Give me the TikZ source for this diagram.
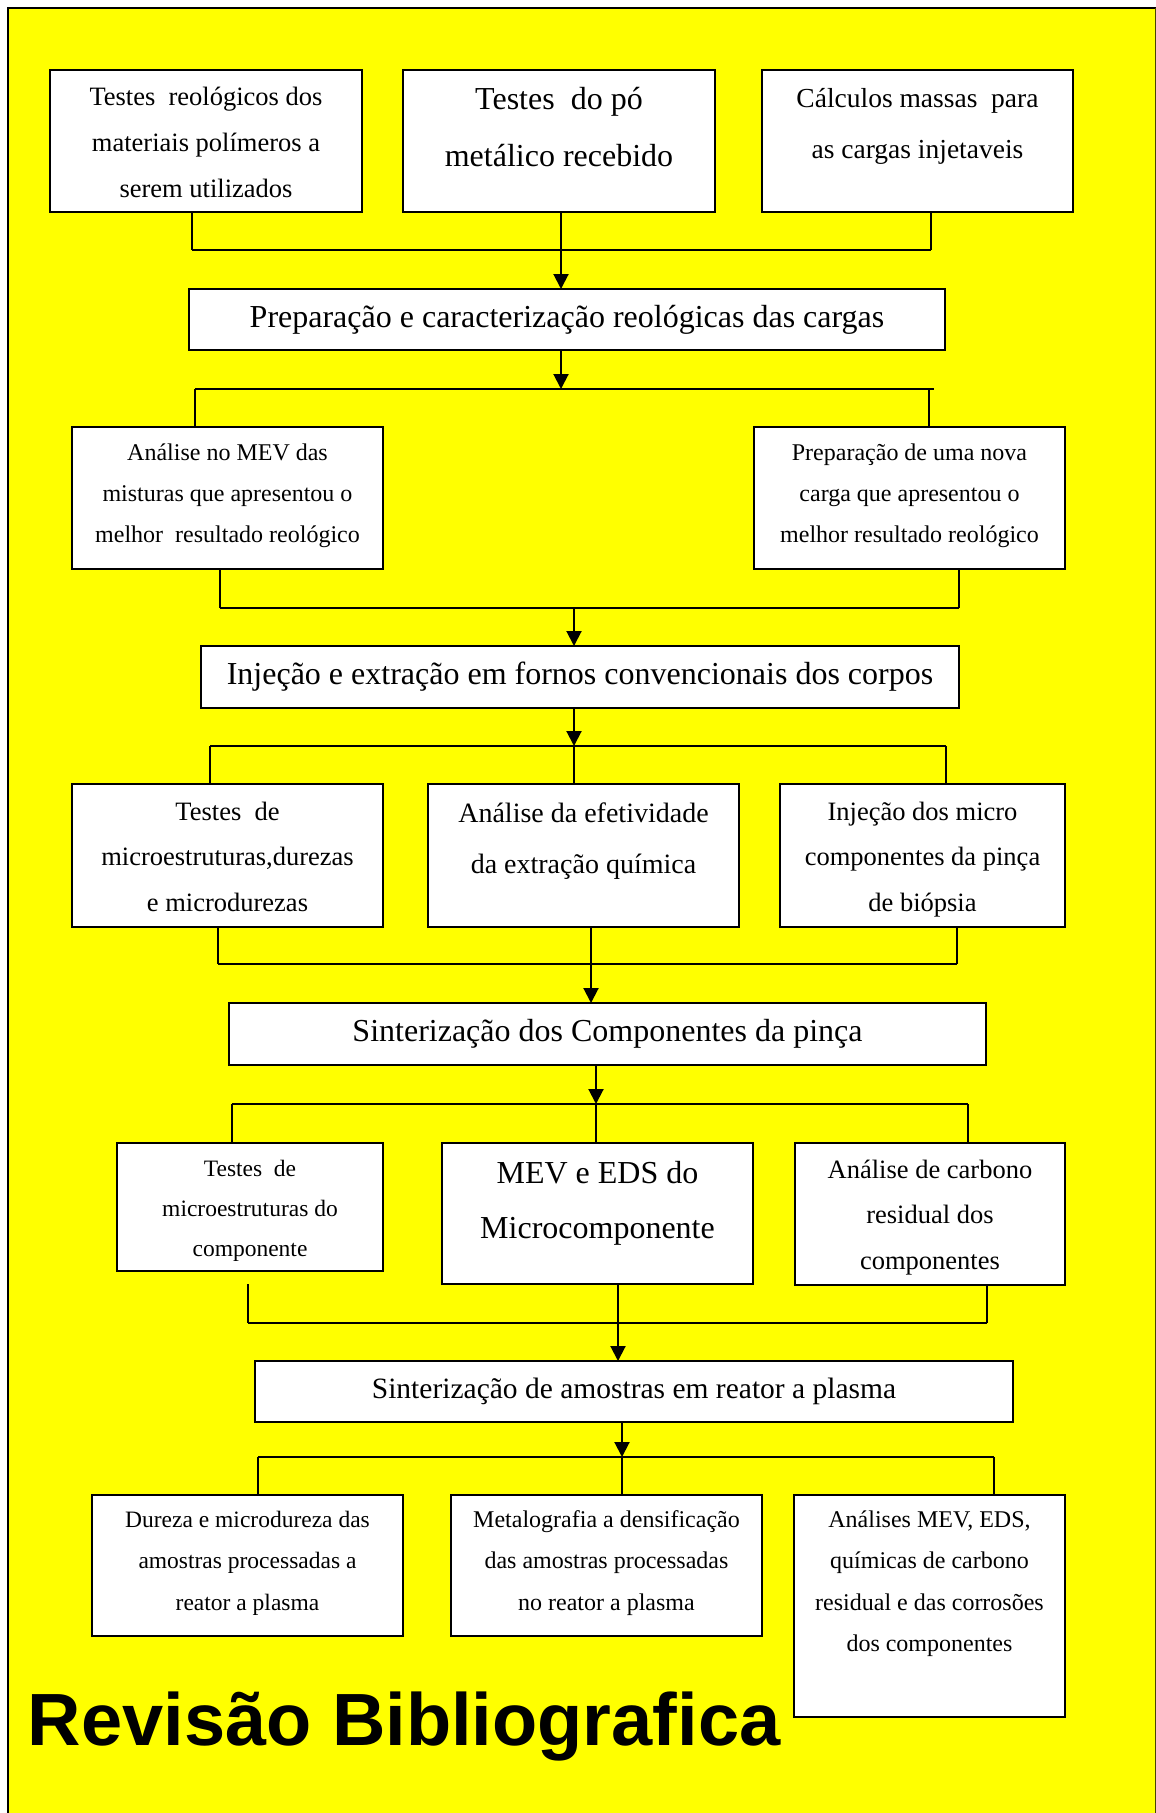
\documentclass[tikz,border=0pt]{standalone}
\usepackage{fontspec}
\setmainfont{Liberation Serif}
\newfontfamily\titlefont{Liberation Sans}
\usetikzlibrary{arrows.meta}
\definecolor{bgyellow}{RGB}{255,255,0}
\definecolor{edgeolive}{RGB}{70,70,0}
\begin{document}
\begin{tikzpicture}[x=1pt,y=-1pt,
  box/.style={draw=black, fill=white, line width=2pt, inner sep=0pt, outer sep=0pt},
  txt/.style={align=center, inner sep=0pt, anchor=north},
  vline/.style={line width=1.6pt},
  hline/.style={line width=2.4pt},
  arr/.style={line width=2pt, -{Triangle[length=15pt,width=15pt]}},
]
\useasboundingbox (0,0) rectangle (1156,1813);
% frame
\fill[bgyellow] (8,8) rectangle (1156,1813);
\draw[line width=2.5pt] (8,1813) -- (8,8) -- (1156,8);
\draw[line width=1pt, edgeolive] (1155,8) -- (1155,1813);

% boxes
\node[box, minimum width=312pt, minimum height=142pt] (A) at (206,141) {};
\node[box, minimum width=312pt, minimum height=142pt] (B) at (559,141) {};
\node[box, minimum width=311pt, minimum height=142pt] (C) at (917.5,141) {};
\node[box, minimum width=756pt, minimum height=61pt, font=\fontsize{32}{38}\selectfont] (D) at (567,319.5) {Preparação e caracterização reológicas das cargas};
\node[box, minimum width=311pt, minimum height=142pt] (E) at (227.5,498) {};
\node[box, minimum width=311pt, minimum height=142pt] (F) at (909.5,498) {};
\node[box, minimum width=758pt, minimum height=62pt, font=\fontsize{32}{38}\selectfont] (G) at (580,677) {Injeção e extração em fornos convencionais dos corpos};
\node[box, minimum width=311pt, minimum height=143pt] (H) at (227.5,855.5) {};
\node[box, minimum width=311pt, minimum height=143pt] (I) at (583.5,855.5) {};
\node[box, minimum width=285pt, minimum height=143pt] (J) at (922.5,855.5) {};
\node[box, minimum width=757pt, minimum height=62pt, font=\fontsize{32}{38}\selectfont] (K) at (607.5,1034) {Sinterização dos Componentes da pinça};
\node[box, minimum width=266pt, minimum height=128pt] (L) at (250,1207) {};
\node[box, minimum width=311pt, minimum height=141pt] (M) at (597.5,1213.5) {};
\node[box, minimum width=270pt, minimum height=142pt] (N) at (930,1214) {};
\node[box, minimum width=758pt, minimum height=61pt, font=\fontsize{29.5}{35}\selectfont] (O) at (634,1391.5) {Sinterização de amostras em reator a plasma};
\node[box, minimum width=311pt, minimum height=141pt] (P) at (247.5,1565.5) {};
\node[box, minimum width=311pt, minimum height=141pt] (Q) at (606.5,1565.5) {};
\node[box, minimum width=271pt, minimum height=222pt] (R) at (929.5,1606) {};

% texts
\node[txt, font=\fontsize{26.5}{46}\selectfont] (At) at (206,72.8) {\strut Testes\ \ reológicos dos\\materiais polímeros a\\serem utilizados};
\node[txt, font=\fontsize{32}{57}\selectfont] (Bt) at (559,69.1) {\strut Testes\ \ do pó\\metálico recebido};
\node[txt, font=\fontsize{27.5}{51}\selectfont] (Ct) at (917.5,71.3) {\strut Cálculos massas\ \ para\\as cargas injetaveis};
\node[txt, font=\fontsize{24}{41}\selectfont] (Et) at (227.5,431.3) {\strut Análise no MEV das\\misturas que apresentou o\\melhor\ \ resultado reológico};
\node[txt, font=\fontsize{24}{41}\selectfont] (Ft) at (909.5,431.3) {\strut Preparação de uma nova\\carga que apresentou o\\melhor resultado reológico};
\node[txt, font=\fontsize{26.5}{45.5}\selectfont] (Ht) at (227.5,788.15) {\strut Testes\ \ de\\microestruturas,durezas\\e microdurezas};
\node[txt, font=\fontsize{28}{51}\selectfont] (It) at (583.5,786.3) {\strut Análise da efetividade\\da extração química};
\node[txt, font=\fontsize{26.5}{45.5}\selectfont] (Jt) at (922.5,788.15) {\strut Injeção dos micro\\componentes da pinça\\de biópsia};
\node[txt, font=\fontsize{23.5}{40}\selectfont] (Lt) at (250,1148) {\strut Testes\ \ de\\microestruturas do\\componente};
\node[txt, font=\fontsize{32}{55.5}\selectfont] (Mt) at (597.5,1144.15) {\strut MEV e EDS do\\Microcomponente};
\node[txt, font=\fontsize{26.5}{45.5}\selectfont] (Nt) at (930,1146.15) {\strut Análise de carbono\\residual dos\\componentes};
\node[txt, font=\fontsize{23.5}{41.5}\selectfont] (Pt) at (247.5,1497.95) {\strut Dureza e microdureza das\\amostras processadas a\\reator a plasma};
\node[txt, font=\fontsize{24}{41.5}\selectfont] (Qt) at (606.5,1497.95) {\strut Metalografia a densificação\\das amostras processadas\\no reator a plasma};
\node[txt, font=\fontsize{24}{41.5}\selectfont] (Rt) at (929.5,1497.95) {\strut Análises MEV, EDS,\\químicas de carbono\\residual e das corrosões\\dos componentes};

\node[font=\titlefont\bfseries\fontsize{74}{80}\selectfont, anchor=base west, inner sep=0pt] (title) at (27.6,1745) {Revisão Bibliografica};

% junction coordinates
\coordinate (r1l) at (192,250); \coordinate (r1m) at (561,250); \coordinate (r1r) at (931,250);
\coordinate (r2l) at (195,389); \coordinate (r2m) at (561,389); \coordinate (r2r) at (934,389); \coordinate (r2rv) at (929,389);
\coordinate (r3l) at (220,608); \coordinate (r3m) at (574,608); \coordinate (r3r) at (959,608);
\coordinate (r4l) at (210,746); \coordinate (r4m) at (574,746); \coordinate (r4r) at (946,746);
\coordinate (r5l) at (218,964); \coordinate (r5m) at (591,964); \coordinate (r5r) at (957,964);
\coordinate (r6l) at (232,1104); \coordinate (r6m) at (596,1104); \coordinate (r6r) at (968,1104);
\coordinate (r7l) at (248,1323); \coordinate (r7m) at (618,1323); \coordinate (r7r) at (987,1323);
\coordinate (r8l) at (258,1457); \coordinate (r8m) at (622,1457); \coordinate (r8r) at (994,1457);

% connectors
\draw[vline] (A.south -| r1l) -- (r1l);
\draw[vline] (C.south -| r1r) -- (r1r);
\draw[hline] (r1l) -- (r1r);
\draw[arr] (B.south -| r1m) -- (D.north -| r1m);

\draw[arr] (D.south -| r2m) -- (r2m);
\draw[hline] (r2l) -- (r2r);
\draw[vline] (r2l) -- (E.north -| r2l);
\draw[vline] (r2rv) -- (F.north -| r2rv);

\draw[vline] (E.south -| r3l) -- (r3l);
\draw[vline] (F.south -| r3r) -- (r3r);
\draw[hline] (r3l) -- (r3r);
\draw[arr] (r3m) -- (G.north -| r3m);

\draw[arr] (G.south -| r4m) -- (r4m);
\draw[hline] (r4l) -- (r4r);
\draw[vline] (r4l) -- (H.north -| r4l);
\draw[vline] (r4m) -- (I.north -| r4m);
\draw[vline] (r4r) -- (J.north -| r4r);

\draw[vline] (H.south -| r5l) -- (r5l);
\draw[vline] (I.south -| r5m) -- (r5m);
\draw[vline] (J.south -| r5r) -- (r5r);
\draw[hline] (r5l) -- (r5r);
\draw[arr] (r5m) -- (K.north -| r5m);

\draw[arr] (K.south -| r6m) -- (r6m);
\draw[hline] (r6l) -- (r6r);
\draw[vline] (r6l) -- (L.north -| r6l);
\draw[vline] (r6m) -- (M.north -| r6m);
\draw[vline] (r6r) -- (N.north -| r6r);

\draw[vline] (M.south -| r7l) -- (r7l);
\draw[vline] (M.south -| r7m) -- (r7m);
\draw[vline] (N.south -| r7r) -- (r7r);
\draw[hline] (r7l) -- (r7r);
\draw[arr] (r7m) -- (O.north -| r7m);

\draw[arr] (O.south -| r8m) -- (r8m);
\draw[hline] (r8l) -- (r8r);
\draw[vline] (r8l) -- (P.north -| r8l);
\draw[vline] (r8m) -- (Q.north -| r8m);
\draw[vline] (r8r) -- (R.north -| r8r);
\end{tikzpicture}
\end{document}
